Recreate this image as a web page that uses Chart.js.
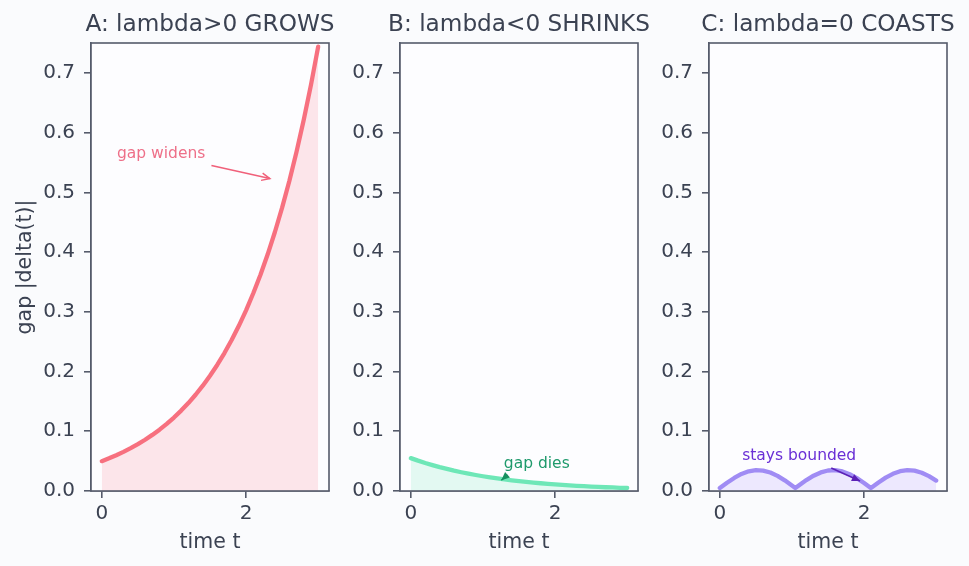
<!DOCTYPE html>
<html>
<head>
<meta charset="utf-8">
<script src="https://cdn.jsdelivr.net/npm/chart.js@4/dist/chart.umd.min.js"></script>
<style>
  html, body { margin:0; padding:0; background:#fafbfd; }
  #wrap { position:relative; width:969px; height:566px; overflow:hidden; background:#fafbfd; }
  canvas { position:absolute; top:0; }
</style>
</head>
<body>
<div id="wrap">
  <canvas id="cA" width="340" height="566" style="left:0px"></canvas>
  <canvas id="cB" width="309" height="566" style="left:340px"></canvas>
  <canvas id="cC" width="320" height="566" style="left:649px"></canvas>
</div>
<script>
// ---- data ----
const panelTitles = ['A: lambda>0 GROWS', 'B: lambda<0 SHRINKS', 'C: lambda=0 COASTS'];
const xTicks = [0, 2];
const yTicks = [0.0, 0.1, 0.2, 0.3, 0.4, 0.5, 0.6, 0.7];

const tA = [0,0.1,0.2,0.3,0.4,0.5,0.6,0.7,0.8,0.9,1.0,1.1,1.2,1.3,1.4,1.5,1.6,1.7,1.8,1.9,2.0,2.1,2.2,2.3,2.4,2.5,2.6,2.7,2.8,2.9,3.0];
const gapA = [0.0500,0.0547,0.0599,0.0655,0.0717,0.0784,0.0858,0.0939,0.1027,0.1124,0.1230,0.1346,0.1472,0.1611,0.1763,0.1929,0.2110,0.2309,0.2527,0.2765,0.3025,0.3310,0.3621,0.3962,0.4336,0.4744,0.5190,0.5679,0.6214,0.6800,0.7440];

const tB = tA;
const gapB = [0.0550,0.0508,0.0469,0.0433,0.0399,0.0369,0.0340,0.0314,0.0290,0.0268,0.0247,0.0228,0.0211,0.0194,0.0179,0.0166,0.0153,0.0141,0.0130,0.0120,0.0111,0.0103,0.0095,0.0087,0.0081,0.0074,0.0069,0.0063,0.0059,0.0054,0.0050];

const tC = [0,0.1,0.2,0.3,0.4,0.5,0.6,0.7,0.8,0.9,1.0,1.047,1.1,1.2,1.3,1.4,1.5,1.6,1.7,1.8,1.9,2.0,2.094,2.1,2.2,2.3,2.4,2.5,2.6,2.7,2.8,2.9,3.0];
const gapC = [0.0050,0.0139,0.0219,0.0285,0.0330,0.0349,0.0342,0.0309,0.0253,0.0178,0.0092,0.0050,0.0097,0.0183,0.0256,0.0311,0.0343,0.0349,0.0328,0.0282,0.0215,0.0134,0.0050,0.0055,0.0143,0.0224,0.0288,0.0331,0.0350,0.0341,0.0306,0.0249,0.0174];

// annotations: text anchor (t, gap) and arrow tail -> head (t, gap)
const noteA = { text:'gap widens',    at:[0.21, 0.565], from:[1.52, 0.545], to:[2.33, 0.523] };
const noteB = { text:'gap dies',      at:[1.29, 0.045], from:[1.34, 0.027], to:[1.255, 0.018] };
const noteC = { text:'stays bounded', at:[0.31, 0.0585], from:[1.545, 0.0385], to:[1.945, 0.0167] };

// ---- styling ----
const FONT = "'DejaVu Sans', sans-serif";
const TEXT = '#3b4252';
const SPINE = '#555b6b';
const PLOT_BG = '#fdfdff';

function pts(ts, vs) { return ts.map((t, i) => ({ x: t, y: vs[i] })); }

function makePanel(id, title, ts, vs, line, fill, note, noteColor, arrowColor, headStyle, yW, rightPad, yTitle) {
  const frame = {
    id: 'frame',
    beforeDatasetsDraw(chart) {
      const a = chart.chartArea, c = chart.ctx;
      c.save(); c.fillStyle = PLOT_BG; c.fillRect(a.left, a.top, a.right - a.left, a.bottom - a.top); c.restore();
    },
    afterDraw(chart) {
      const a = chart.chartArea, c = chart.ctx;
      const xs = chart.scales.x, ys = chart.scales.y;
      c.save();
      c.strokeStyle = SPINE; c.lineWidth = 1.6;
      c.strokeRect(a.left, a.top, a.right - a.left, a.bottom - a.top);
      // title centred over plot area
      c.fillStyle = TEXT; c.font = '23.2px ' + FONT; c.textAlign = 'center'; c.textBaseline = 'middle';
      c.fillText(title, (a.left + a.right) / 2, a.top - 18);
      // annotation text
      c.fillStyle = noteColor; c.font = '15.5px ' + FONT; c.textAlign = 'left'; c.textBaseline = 'middle';
      c.fillText(note.text, xs.getPixelForValue(note.at[0]), ys.getPixelForValue(note.at[1]));
      // arrow
      const x0 = xs.getPixelForValue(note.from[0]), y0 = ys.getPixelForValue(note.from[1]);
      const x1 = xs.getPixelForValue(note.to[0]), y1 = ys.getPixelForValue(note.to[1]);
      const ang = Math.atan2(y1 - y0, x1 - x0);
      c.strokeStyle = arrowColor; c.fillStyle = arrowColor; c.lineWidth = 1.5;
      c.beginPath(); c.moveTo(x0, y0); c.lineTo(x1, y1); c.stroke();
      const L = 9, W = 0.42;
      c.beginPath();
      c.moveTo(x1 - L * Math.cos(ang - W), y1 - L * Math.sin(ang - W));
      c.lineTo(x1, y1);
      c.lineTo(x1 - L * Math.cos(ang + W), y1 - L * Math.sin(ang + W));
      if (headStyle === 'filled') { c.closePath(); c.fill(); } else { c.stroke(); }
      c.restore();
    }
  };
  return new Chart(document.getElementById(id), {
    type: 'line',
    data: { datasets: [{
      data: pts(ts, vs),
      borderColor: line, borderWidth: 4.3, borderCapStyle: 'round', borderJoinStyle: 'round',
      backgroundColor: fill, fill: 'origin', pointRadius: 0, tension: 0
    }]},
    options: {
      responsive: false, animation: false, devicePixelRatio: 1,
      layout: { padding: { top: 43, right: rightPad, left: 0, bottom: 0 } },
      plugins: { legend: { display: false }, tooltip: { enabled: false }, title: { display: false } },
      scales: {
        x: {
          type: 'linear', min: -0.15, max: 3.15,
          afterBuildTicks: s => { s.ticks = xTicks.map(v => ({ value: v })); },
          afterFit: s => { s.height = 75; },
          grid: { drawOnChartArea: false, drawTicks: true, tickLength: 7, color: SPINE, lineWidth: 1.6 },
          border: { display: true, color: SPINE, width: 1.6 },
          ticks: { color: TEXT, font: { family: FONT, size: 20 }, padding: 4, maxRotation: 0,
                   callback: v => String(v) },
          title: { display: true, text: 'time t', color: TEXT, font: { family: FONT, size: 20.5 }, padding: { top: 2, bottom: 11 } }
        },
        y: {
          type: 'linear', min: 0, max: 0.75,
          afterBuildTicks: s => { s.ticks = yTicks.map(v => ({ value: v })); },
          afterFit: s => { s.width = yW; },
          grid: { drawOnChartArea: false, drawTicks: true, tickLength: 7, color: SPINE, lineWidth: 1.6 },
          border: { display: true, color: SPINE, width: 1.6 },
          ticks: { color: TEXT, font: { family: FONT, size: 20 }, padding: 9,
                   callback: v => Number(v).toFixed(1) },
          title: { display: !!yTitle, text: yTitle || '', color: TEXT, font: { family: FONT, size: 20.5 }, padding: { top: 13, bottom: 4 } }
        }
      }
    },
    plugins: [frame]
  });
}

makePanel('cA', panelTitles[0], tA, gapA, '#f7707f', 'rgba(251,113,133,0.17)', noteA, '#ee7089', '#f0607a', 'open', 91, 11, 'gap |delta(t)|');
makePanel('cB', panelTitles[1], tB, gapB, '#6ee7b7', 'rgba(110,231,183,0.18)', noteB, '#1f9a6c', '#16905f', 'filled', 60, 11, null);
makePanel('cC', panelTitles[2], tC, gapC, '#a08cf4', 'rgba(167,139,250,0.18)', noteC, '#6a2fd6', '#5b21b6', 'filled', 60, 22, null);
</script>
</body>
</html>
